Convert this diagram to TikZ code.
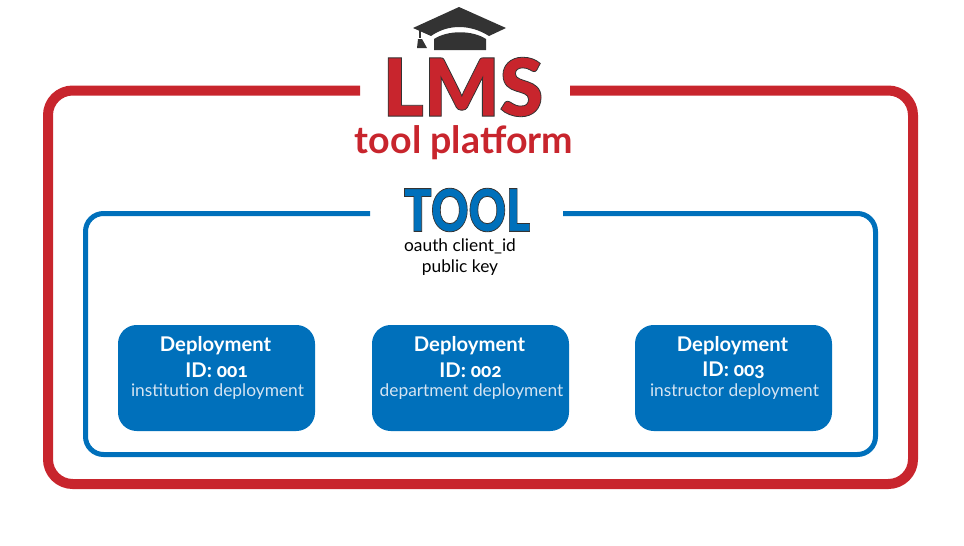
\documentclass[tikz,border=0pt]{standalone}
\usepackage{fontspec}
\setmainfont{Lato}
\newfontfamily\heavyfont{Lato Black}
\newfontfamily\idfont[Numbers=OldStyle]{Carlito}
\usetikzlibrary{positioning}
\definecolor{lmsred}{HTML}{C8252D}
\definecolor{toolblue}{HTML}{0070BB}
\definecolor{capgray}{HTML}{333333}
\definecolor{palebox}{HTML}{D5E4F2}
\newcommand{\outlined}[1]{\special{pdf:code q 2 Tr 0.6 w 0.2 0.2 0.2 RG}#1\special{pdf:code Q}}
\tikzset{
    deploybox/.style={fill=toolblue, rounded corners=14pt, minimum width=147.75pt, minimum height=79.5pt, inner sep=0pt},
    boxhead/.style={text=white, font=\bfseries\fontsize{15.2}{17}\selectfont},
    boxnote/.style={text=palebox, font=\fontsize{13}{15}\selectfont},
}
\begin{document}
\begin{tikzpicture}[x=0.75pt, y=-0.75pt]
    \useasboundingbox (0,0) rectangle (964,546);
    % frame of the platform
    \draw[lmsred, line width=7.5pt, rounded corners=18.5pt] (360,90.5) -- (48,90.5) -- (48,484) -- (913,484) -- (913,90.5) -- (570,90.5);
    % frame of the tool
    \draw[toolblue, line width=3.75pt, rounded corners=13.5pt] (370,213.5) -- (85.5,213.5) -- (85.5,454.5) -- (875.5,454.5) -- (875.5,213.5) -- (563,213.5);
    % cap
    \fill[capgray] (413,28) -- (459,7) -- (506,28) -- (489,36) .. controls (470,24) and (448,24) .. (431,36) -- cycle;
    \fill[capgray] (434,50) -- (434,39) .. controls (448,30) and (472,30) .. (486,39) -- (486,50) -- cycle;
    \draw[capgray, line width=0.8pt] (420,30) -- (420,38);
    \fill[capgray] (418,39) -- (422,39) -- (427,48) -- (417,48) -- cycle;
    % titles
    \node[text=lmsred, font=\heavyfont\fontsize{60}{60}\selectfont] (lms) at (463,87) {\outlined{\scalebox{0.985}[1]{LMS}}};
    \node[text=lmsred, font=\bfseries\fontsize{28.2}{28}\selectfont] (platform) at (464,143) {tool platform};
    \node[text=toolblue, font=\heavyfont\fontsize{44}{44}\selectfont] (tool) at (467,210) {\outlined{\scalebox{0.785}[1]{TOOL}}};
    \node[text=black, align=center, font=\fontsize{13}{16}\selectfont] (keys) at (460,257) {oauth client\_id\\public key};
    % deployments
    \node[deploybox] (first) at (216.5,378) {};
    \node[deploybox] (second) at (470.5,378) {};
    \node[deploybox] (third) at (733.5,378) {};
    \foreach \boxname/\idnum/\note in {first/001/institution, second/002/department, third/003/instructor} {
        \node[boxhead] at ([xshift=-0.75pt,yshift=24.5pt]\boxname.center) {Deployment};
        \node[boxhead] at ([yshift=5.5pt]\boxname.center) {ID: {\idfont\idnum}};
        \node[boxnote] at ([xshift=0.75pt,yshift=-10.5pt]\boxname.center) {\note{} deployment};
    }
\end{tikzpicture}
\end{document}
